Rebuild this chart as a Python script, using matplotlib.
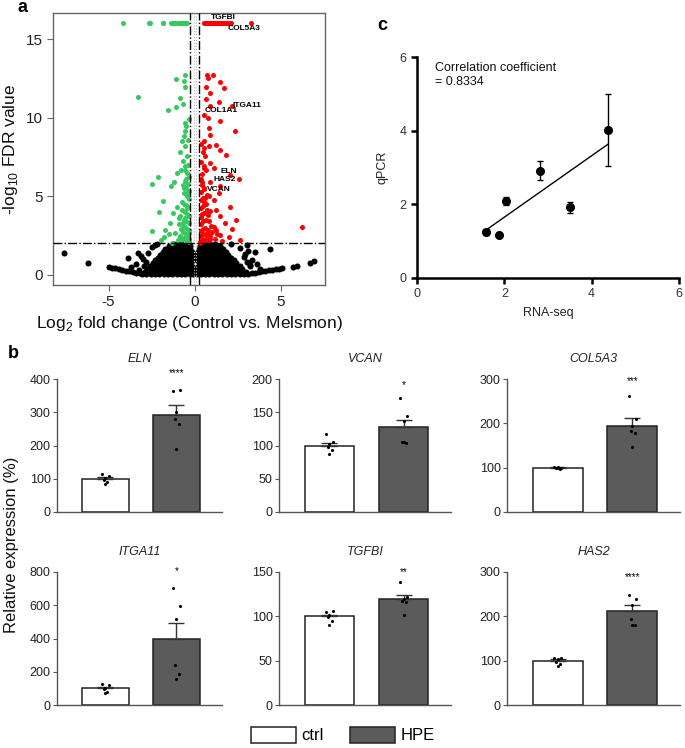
import matplotlib.pyplot as plt
from matplotlib.patches import Patch
import numpy as np

plt.rcParams['font.family'] = ['Liberation Sans', 'DejaVu Sans']
plt.rcParams['mathtext.fontset'] = 'custom'
plt.rcParams['mathtext.rm'] = 'Liberation Sans'
plt.rcParams['axes.unicode_minus'] = False

# ---------------- panel a: volcano (log2 FC, -log10 FDR) ----------------
green_x = [-4.15, -2.68, -2.62, -1.87, -1.82, -1.35, -1.28, -1.2, -1.12, -0.98, -0.9, -0.82,
           -0.74, -0.66, -0.58, -0.5, -0.43,
           -0.54, -1.06, -0.64, -0.54, -3.28, -0.83, -0.67, -1.06, -1.56, -0.54, -0.48, -0.54,
           -0.6, -0.73, -0.54, -0.83, -0.44, -0.67, -0.54, -0.79, -1.02, -2.14, -1.21, -2.47,
           -1.37, -0.64, -0.44, -1.83, -0.73, -1.02, -0.44, -2.08, -1.25, -0.83, -0.54, -1.41,
           -0.92, -0.67, -2.47, -1.7, -1.12, -1.79, -0.83, -1.98, -0.54, -0.35,
           -0.35, -0.45, -0.55, -0.62, -0.38, -0.5, -0.7, -0.33, -0.44, -0.58, -0.36, -0.48,
           -0.62, -0.34, -0.45, -0.55, -0.38, -0.5, -0.65, -0.36, -0.47, -0.34, -0.5, -0.4,
           -0.55, -0.36, -0.45, -0.58, -0.42, -0.36, -0.75, -0.85, -0.95, -0.8, -0.68, -0.9,
           -0.75, -0.6, -0.7, -1.3, -1.5, -0.4, -0.33, -0.5]
green_y = [16] * 17 + \
          [12.74, 12.46, 12.31, 11.95, 11.32, 11.23, 10.89, 10.68, 10.47, 9.66, 9.45, 9.13,
           8.81, 8.49, 8.17, 7.79, 7.54, 7.22, 6.9, 6.65, 6.48, 6.22, 5.94, 5.78,
           5.63, 5.52, 5.2, 4.73, 4.67, 4.35, 4.25, 4.03, 3.93, 3.72, 3.61, 3.33,
           3.25, 3.08, 2.82, 2.87, 2.65, 2.4, 2.4, 2.23, 2.23, 2.65,
           2.1, 2.15, 2.2, 2.35, 2.5, 2.6, 2.7, 2.85, 2.95, 3.05, 3.3, 3.45,
           3.5, 3.75, 3.9, 4.0, 4.3, 4.45, 4.5, 4.8, 5.0, 5.35, 5.5, 5.8,
           6.0, 6.25, 6.5, 6.7, 7.0, 2.3, 2.3, 2.5, 2.2, 2.95, 3.3, 3.6,
           4.1, 5.2, 5.7, 2.05, 2.6, 8.6, 9.9, 6.1]

red_x = [0.55, 0.62, 0.7, 0.78, 0.85, 0.92, 1.0, 1.08, 1.15, 1.22, 1.3, 1.38, 1.45, 1.52,
         1.6, 1.7, 1.8, 1.9, 2.0, 2.1, 3.25,
         0.71, 1.06, 0.75, 1.48, 0.66, 1.71, 0.91, 0.67, 1.39, 2.16, 0.87, 0.52, 0.75, 1.48,
         0.81, 2.35, 0.91, 0.56, 0.81, 1.25, 0.56, 1.48, 1.83, 0.62, 0.87, 0.52, 1.1, 0.67,
         2.06, 2.54, 0.91, 1.45, 0.56, 1.39, 0.81, 1.1, 0.56, 2.02, 1.25, 0.71, 1.48, 2.41,
         1.77, 6.2, 1.1, 1.25, 2.16, 0.71, 1.48, 1.97, 0.91, 2.64,
         0.33, 0.42, 0.52, 0.62, 0.38, 0.48, 0.7, 0.35, 0.45, 0.58, 0.36, 0.5, 0.64, 0.34,
         0.44, 0.56, 0.38, 0.5, 0.66, 0.35, 0.46, 0.36, 0.52, 0.4, 0.34, 0.44, 0.8, 0.9,
         0.78, 0.95, 0.85, 0.75, 0.9, 1.0, 1.15, 0.68, 0.6, 0.72, 0.38, 0.45, 0.36, 1.3,
         1.6, 0.33, 0.42, 0.55]
red_y = [16] * 21 + \
        [12.74, 12.74, 12.53, 12.25, 11.95, 11.89, 11.57, 11.19, 10.98, 10.72, 10.76, 10.19,
         9.98, 9.81, 9.34, 9.13, 8.92, 8.49, 8.17, 8.28, 8.07, 7.92, 7.64, 7.54, 7.11,
         6.94, 6.79, 6.65, 6.37, 6.11, 5.94, 5.63, 5.46, 5.2, 4.99, 4.78, 4.67, 4.31,
         4.14, 3.93, 3.72, 3.5, 3.33, 3.04, 3.08, 2.87, 2.91, 2.65, 2.55, 2.4, 2.27, 2.23,
         2.1, 2.2, 2.15, 2.3, 2.45, 2.6, 2.55, 2.8, 2.95, 3.0, 3.25, 3.4, 3.5, 3.7,
         3.85, 3.95, 4.25, 4.4, 4.5, 4.75, 4.9, 5.3, 5.5, 5.75, 6.1, 6.4, 2.2, 2.45,
         2.85, 3.1, 3.4, 3.8, 4.05, 2.7, 2.3, 4.1, 4.9, 5.1, 7.2, 7.8, 8.3, 2.6,
         2.15, 2.02, 5.9, 6.8]

# non-significant genes, read row by row (-log10 FDR, log2 FC values)
black_rows = [
    (0.03, [-3.05, -2.8, -2.55, -2.3, -2.05, -1.8, -1.55, -1.3, -1.05, -0.8, -0.55, -0.3, -0.08,
            0.12, 0.35, 0.6, 0.85, 1.1, 1.35, 1.6, 1.85, 2.1, 2.35, 2.6, 2.85, 3.1]),
    (0.2, [-2.9, -2.65, -2.4, -2.15, -1.9, -1.65, -1.4, -1.15, -0.9, -0.65, -0.4, -0.17, 0.05,
           0.25, 0.5, 0.75, 1.0, 1.25, 1.5, 1.75, 2.0, 2.25, 2.5, 2.75, 2.95]),
    (0.38, [-2.75, -2.5, -2.25, -2.0, -1.75, -1.5, -1.25, -1.0, -0.75, -0.5, -0.27, -0.1, 0.13,
            0.3, 0.55, 0.8, 1.05, 1.3, 1.55, 1.8, 2.05, 2.3, 2.55, 2.75]),
    (0.56, [-2.6, -2.35, -2.1, -1.85, -1.6, -1.35, -1.1, -0.85, -0.6, -0.38, -0.18, 0.18, 0.4,
            0.65, 0.9, 1.15, 1.4, 1.65, 1.9, 2.15, 2.4, 2.6]),
    (0.74, [-2.45, -2.2, -1.95, -1.7, -1.45, -1.2, -0.95, -0.7, -0.45, -0.22, 0.22, 0.45, 0.7,
            0.95, 1.2, 1.45, 1.7, 1.95, 2.2, 2.4]),
    (0.92, [-2.3, -2.05, -1.8, -1.55, -1.3, -1.05, -0.8, -0.55, -0.3, -0.15, 0.15, 0.3, 0.55,
            0.8, 1.05, 1.3, 1.55, 1.8, 2.05, 2.25]),
    (1.1, [-2.15, -1.9, -1.65, -1.4, -1.15, -0.9, -0.65, -0.42, -0.2, 0.2, 0.42, 0.65, 0.9,
           1.15, 1.4, 1.65, 1.9, 2.1]),
    (1.28, [-2.0, -1.75, -1.5, -1.25, -1.0, -0.75, -0.5, -0.28, -0.14, 0.14, 0.28, 0.5, 0.75,
            1.0, 1.25, 1.5, 1.75, 1.95]),
    (1.46, [-1.85, -1.6, -1.35, -1.1, -0.85, -0.6, -0.38, -0.18, 0.18, 0.38, 0.6, 0.85, 1.1,
            1.35, 1.6, 1.8]),
    (1.64, [-1.7, -1.45, -1.2, -0.95, -0.7, -0.45, -0.25, 0.25, 0.45, 0.7, 0.95, 1.2, 1.45, 1.65]),
    (1.82, [-1.5, -1.25, -1.0, -0.75, -0.5, -0.3, 0.3, 0.5, 0.75, 1.0, 1.25, 1.45]),
    (1.95, [-1.2, -0.9, -0.6, -0.35, 0.35, 0.6, 0.9, 1.15]),
]
black_extra_x = [-5.0, -4.8, -4.6, -4.4, -4.2, -4.0, -3.8, -3.6, -3.4, -3.2,
                 3.3, 3.5, 3.7, 3.9, 4.1, 4.3, 4.5, 4.7, 4.9, 5.05,
                 -7.6, -6.2, -3.9, -3.3, -3.4, -3.0, -2.7, -2.5, -2.3, -2.2, -3.7,
                 2.6, 2.9, 3.3, 3.6, 3.8, 2.1, 3.5, 4.34, 5.72, 5.95, 6.69, 6.92, 3.2, 3.02,
                 -3.25, -2.95, -2.85, -3.1, 3.2, 3.0, 2.85, 3.1]
black_extra_y = [0.52, 0.47, 0.42, 0.37, 0.32, 0.27, 0.23, 0.18, 0.14, 0.1,
                 0.1, 0.14, 0.18, 0.22, 0.26, 0.3, 0.34, 0.37, 0.4, 0.43,
                 1.38, 0.74, 1.06, 1.4, 0.7, 1.0, 1.4, 1.75, 1.9, 1.98, 0.5,
                 1.7, 1.3, 0.95, 0.7, 0.35, 1.97, 1.49, 1.66, 0.51, 0.58, 0.74, 0.91, 0.55, 1.91,
                 0.3, 0.55, 0.85, 1.2, 0.62, 0.85, 1.15, 1.5]

gene_labels = ['TGFBI', 'COL5A3', 'ITGA11', 'COL1A1', 'ELN', 'HAS2', 'VCAN']
gene_lx = [0.95, 1.9, 2.18, 0.56, 1.52, 1.1, 0.68]
gene_ly = [16.35, 15.7, 10.8, 10.45, 6.6, 6.1, 5.45]

# ---------------- panel b: relative expression (%) ----------------
genes = ['ELN', 'VCAN', 'COL5A3', 'ITGA11', 'TGFBI', 'HAS2']
ctrl_mean = [100, 100, 100, 100, 100, 100]
ctrl_sem = [4, 4.5, 1.5, 11, 2, 4]
hpe_mean = [292, 128, 194, 400, 119, 211]
hpe_sem = [29, 11, 17, 96, 5, 15]
ctrl_pts = [[113, 108, 103, 96, 91, 85],
            [118, 106, 103, 97, 93, 87],
            [101, 99, 102, 100, 98, 100],
            [128, 120, 104, 94, 78, 74],
            [105, 106, 102, 99, 95, 90],
            [106, 105, 103, 96, 93, 87]]
hpe_pts = [[365, 368, 301, 279, 264, 188],
           [171, 144, 137, 105, 104, 106],
           [262, 210, 195, 182, 178, 146],
           [705, 595, 519, 238, 184, 154],
           [139, 122, 120, 117, 116, 102],
           [249, 239, 226, 194, 181, 181]]
y_max = [400, 200, 300, 800, 150, 300]
y_step = [100, 50, 100, 200, 50, 100]
stars = ['****', '*', '***', '*', '**', '****']
star_y = [418, 191, 295, 805, 150, 289]

# ---------------- panel c: RNA-seq vs qPCR ----------------
rna = [1.57, 1.87, 2.03, 2.81, 3.50, 4.37]
qpcr = [1.26, 1.17, 2.09, 2.91, 1.92, 4.02]
qpcr_err = [0.08, 0.0, 0.11, 0.26, 0.15, 0.97]

fig = plt.figure(figsize=(6.85, 7.48), dpi=100)
W, H = 685, 748


def px_axes(x0, y0, x1, y1):
    return fig.add_axes([x0 / W, 1 - y1 / H, (x1 - x0) / W, (y1 - y0) / H])


# ---- a ----
ax = px_axes(53, 13, 325, 285)
bx = [x for yv, xs in black_rows for x in xs] + black_extra_x
by = [yv for yv, xs in black_rows for x in xs] + black_extra_y
ax.scatter(bx, by, s=19, color='black', linewidths=0, zorder=2)
ax.scatter(green_x, green_y, s=13, color='#35c95f', linewidths=0, zorder=3)
ax.scatter(red_x, red_y, s=13, color='#ff0000', linewidths=0, zorder=3)
for v in (-0.26, 0.26):
    ax.axvline(v, color='black', lw=1, ls='-.', zorder=4)
for v in (-0.06, 0.06):
    ax.axvline(v, color='#bbbbbb', lw=0.8, ls=':', zorder=4)
ax.axhline(2, color='black', lw=1, ls='-.', zorder=4)
for t, lx, ly in zip(gene_labels, gene_lx, gene_ly):
    ax.text(lx, ly, t, fontsize=6, fontweight='bold', ha='left', va='center', zorder=5)
ax.set_xlim(-8.22, 7.55)
ax.set_ylim(-0.64, 16.66)
ax.set_xticks([-5, 0, 5])
ax.set_yticks([0, 5, 10, 15])
for s in ax.spines.values():
    s.set_color('#666666')
    s.set_linewidth(1)
ax.tick_params(direction='out', length=4, color='#666666', labelsize=11, labelcolor='#222222')
ax.set_xlabel('Log$_2$ fold change (Control vs. Melsmon)', fontsize=12.5, labelpad=3, color='#111111')
ax.set_ylabel('-log$_{10}$ FDR value', fontsize=12.5, labelpad=4, color='#111111')

# ---- b ----
cols = [(57, 222), (279, 451), (507, 680)]
rows = [(379, 512), (572, 705)]
jitter = [-0.05, 0.05, 0.0, -0.02, 0.03, 0.0]
for i, g in enumerate(genes):
    c0, c1 = cols[i % 3]
    r0, r1 = rows[i // 3]
    ax = px_axes(c0, r0, c1, r1)
    ax.bar([0, 1], [ctrl_mean[i], hpe_mean[i]], width=0.67, color=['white', '#5b5b5b'],
           edgecolor='#222222', linewidth=1.1, zorder=1)
    ax.errorbar([0, 1], [ctrl_mean[i], hpe_mean[i]], yerr=[[0, 0], [ctrl_sem[i], hpe_sem[i]]],
                fmt='none', ecolor='#333333', elinewidth=1, capsize=6, capthick=1, zorder=2)
    ax.scatter(np.array(jitter) + 0, ctrl_pts[i], s=5, color='black', linewidths=0, zorder=3)
    ax.scatter(np.array(jitter) + 1, hpe_pts[i], s=5, color='black', linewidths=0, zorder=3)
    ax.text(1, star_y[i], stars[i], ha='center', va='center', fontsize=7, clip_on=False)
    ax.set_xlim(-0.68, 1.64)
    ax.set_ylim(0, y_max[i])
    ax.set_yticks(np.arange(0, y_max[i] + 1, y_step[i]))
    ax.set_xticks([])
    for s in ('top', 'right'):
        ax.spines[s].set_visible(False)
    for s in ('left', 'bottom'):
        ax.spines[s].set_color('#555555')
        ax.spines[s].set_linewidth(1)
    ax.tick_params(axis='y', direction='out', length=3, color='#555555', labelsize=9,
                   labelcolor='#222222', pad=1.5)
    ax.set_title(g, fontsize=9, fontstyle='italic', pad=12, color='#222222')

fig.text(12 / W, 1 - 545 / H, 'Relative expression (%)', rotation=90, ha='center', va='center',
         fontsize=12, color='#111111')
fig.legend(handles=[Patch(fc='white', ec='#222222', lw=1.1), Patch(fc='#5b5b5b', ec='#222222', lw=1.1)],
           labels=['ctrl', 'HPE'], ncol=2, loc='center', bbox_to_anchor=(343 / W, 1 - 735 / H),
           frameon=False, fontsize=12, handlelength=2.7, handleheight=1.15, handletextpad=0.3,
           columnspacing=1.6)

# ---- c ----
ax = px_axes(417, 57, 679, 278)
ax.errorbar(rna, qpcr, yerr=qpcr_err, fmt='o', color='black', ms=5.5, capsize=2.5,
            elinewidth=1, capthick=1, clip_on=False, zorder=3)
k, b0 = np.polyfit(rna, qpcr, 1)
fx = np.array([min(rna), max(rna)])
ax.plot(fx, k * fx + b0, color='black', lw=1)
ax.text(0.41, 5.86, 'Correlation coefficient\n= 0.8334', fontsize=9, va='top', ha='left',
        linespacing=1.15, color='#111111')
ax.set_xlim(0, 6)
ax.set_ylim(0, 6)
ax.set_xticks([0, 2, 4, 6])
ax.set_yticks([0, 2, 4, 6])
for s in ('top', 'right'):
    ax.spines[s].set_visible(False)
for s in ('left', 'bottom'):
    ax.spines[s].set_linewidth(1.8)
ax.tick_params(direction='out', length=4, width=1.8, labelsize=9, labelcolor='#333333')
ax.set_xlabel('RNA-seq', fontsize=9, labelpad=5, color='#222222')
ax.set_ylabel('qPCR', fontsize=9, labelpad=8, color='#222222')

fig.text(22 / W, 1 - 7 / H, 'a', fontsize=13, fontweight='bold', ha='center', va='center')
fig.text(13 / W, 1 - 353 / H, 'b', fontsize=13, fontweight='bold', ha='center', va='center')
fig.text(382 / W, 1 - 26 / H, 'c', fontsize=13, fontweight='bold', ha='center', va='center')

fig.savefig('out.png', dpi=100)
